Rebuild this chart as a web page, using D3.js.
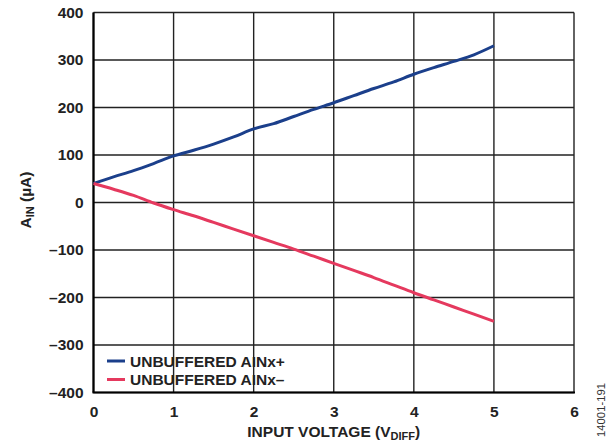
<!DOCTYPE html>
<html><head><meta charset="utf-8">
<script src="https://cdn.jsdelivr.net/npm/d3@7"></script>
<style>body{margin:0;background:#fff}svg{display:block}text{font-family:"Liberation Sans",Arial,sans-serif}</style>
</head><body>
<script>
const xVals = [0,0.25,0.5,0.75,1,1.25,1.5,1.75,2,2.25,2.5,2.75,3,3.25,3.5,3.75,4,4.25,4.5,4.75,5];
const plusVals = [40,54,67,82,98,110,123,138,155,166,181,196,210,225,240,254,270,284,297,311,330];
const minusVals = [40,28,15,-1,-15,-28,-42,-56,-70,-84,-98,-113,-128,-143,-158,-174,-190,-205,-220,-235,-250];
const xTicks = [0,1,2,3,4,5,6];
const yTicks = [-400,-300,-200,-100,0,100,200,300,400];
const seriesNames = ["UNBUFFERED AINx+","UNBUFFERED AINx\u2013"];
const colors = ["#1b3f8b","#e5395e"];

const W=610,H=444;
const m={l:93.5,r:36,t:12.5,b:51.5};
const FS=15.5;
const svg=d3.select("body").append("svg").attr("width",W).attr("height",H);
const x=d3.scaleLinear().domain([0,6]).range([m.l,W-m.r]);
const y=d3.scaleLinear().domain([-400,400]).range([H-m.b,m.t]);
const fmt=v=>v<0?"\u2013"+Math.abs(v):String(v);

const g=svg.append("g");
g.selectAll(".gx").data(xTicks).join("line").attr("x1",d=>x(d)).attr("x2",d=>x(d)).attr("y1",y(400)).attr("y2",y(-400)).attr("stroke","#222").attr("stroke-width",1.4);
g.selectAll(".gy").data(yTicks).join("line").attr("y1",d=>y(d)).attr("y2",d=>y(d)).attr("x1",x(0)).attr("x2",x(6)).attr("stroke","#222").attr("stroke-width",1.4);
g.append("line").attr("x1",x(0)-1).attr("x2",x(6)+1).attr("y1",y(-400)).attr("y2",y(-400)).attr("stroke","#000").attr("stroke-width",2.2);
g.append("line").attr("x1",x(0)).attr("x2",x(0)).attr("y1",y(400)).attr("y2",y(-400)).attr("stroke","#000").attr("stroke-width",2.2);

const xAxis=svg.append("g").attr("transform",`translate(0,${y(-400)})`).call(d3.axisBottom(x).tickValues(xTicks).tickFormat(d3.format("d")).tickSize(0).tickPadding(13));
xAxis.select(".domain").remove();
xAxis.selectAll("text").attr("font-size",FS).attr("font-weight","bold").attr("fill","#222");
const yAxis=svg.append("g").attr("transform",`translate(${x(0)},0)`).call(d3.axisLeft(y).tickValues(yTicks).tickFormat(fmt).tickSize(0).tickPadding(10));
yAxis.select(".domain").remove();
yAxis.selectAll("text").attr("font-size",FS).attr("font-weight","bold").attr("fill","#222");

const line=d3.line().x(d=>x(d[0])).y(d=>y(d[1])).curve(d3.curveMonotoneX);
[plusVals,minusVals].forEach((vals,i)=>{
  svg.append("path").datum(xVals.map((v,j)=>[v,vals[j]])).attr("d",line).attr("fill","none").attr("stroke",colors[i]).attr("stroke-width",3).attr("stroke-linejoin","round");
});

const leg=svg.append("g");
seriesNames.forEach((n,i)=>{
  const yy=361+i*18.5;
  leg.append("line").attr("x1",107).attr("x2",125).attr("y1",yy).attr("y2",yy).attr("stroke",colors[i]).attr("stroke-width",3);
  leg.append("text").attr("x",130).attr("y",yy+5.5).attr("font-size",FS).attr("font-weight","bold").attr("fill","#222").text(n);
});

const xt=svg.append("text").attr("x",x(3)).attr("y",437).attr("text-anchor","middle").attr("font-size",FS).attr("font-weight","bold").attr("fill","#222");
xt.append("tspan").text("INPUT VOLTAGE (V");
xt.append("tspan").attr("font-size",11).attr("dy",3).text("DIFF");
xt.append("tspan").attr("dy",-3).text(")");

const yt=svg.append("text").attr("transform",`translate(31,200) rotate(-90)`).attr("text-anchor","middle").attr("font-size",FS).attr("font-weight","bold").attr("fill","#222");
yt.append("tspan").text("A");
yt.append("tspan").attr("font-size",11).attr("dy",3).text("IN");
yt.append("tspan").attr("dy",-3).text(" (\u00b5A)");

svg.append("text").attr("transform","translate(605,410) rotate(-90)").attr("text-anchor","middle").attr("font-size",10).attr("textLength",54).attr("lengthAdjust","spacingAndGlyphs").attr("fill","#333").text("14001-191");
</script>
</body></html>
